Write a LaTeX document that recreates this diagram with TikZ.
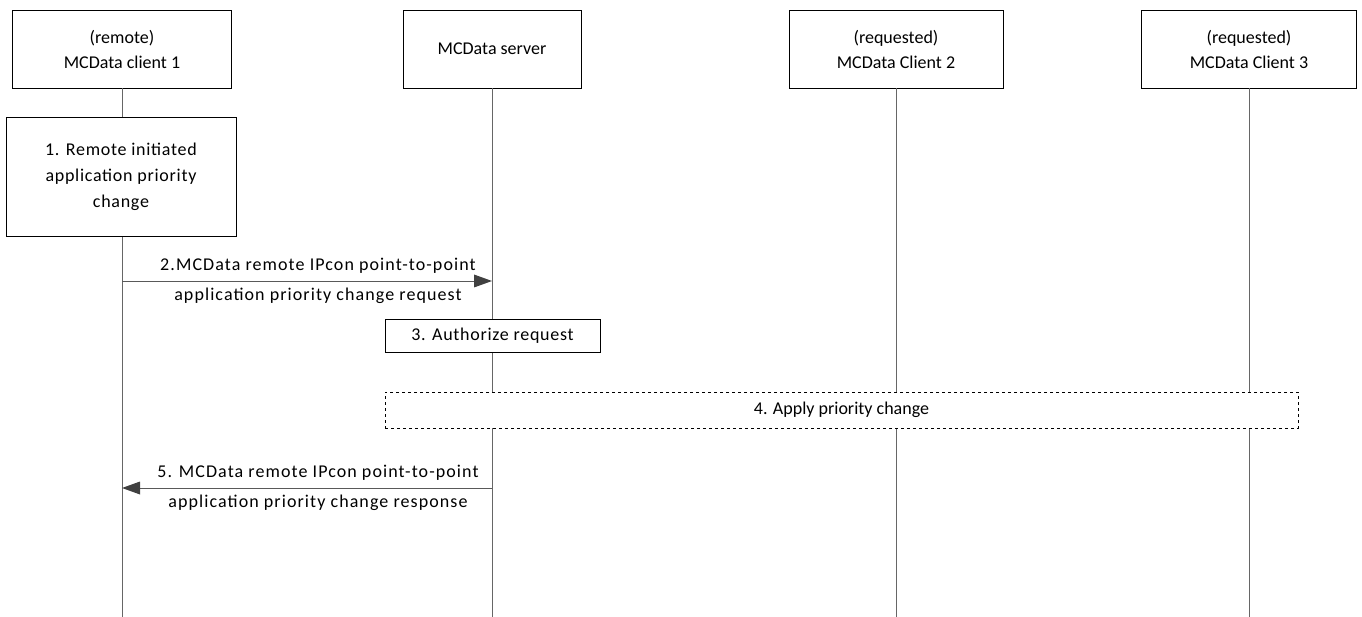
\documentclass[tikz,border=0pt]{standalone}
\usepackage{fontspec}
\setmainfont{Carlito}
\newfontfamily\widefont[LetterSpace=6]{Carlito}
\newfontfamily\midfont[LetterSpace=4]{Carlito}
\usetikzlibrary{arrows.meta}
\tikzset{
  entity/.style={draw, thick, fill=white, align=center, inner sep=0pt},
  action/.style={draw, thick, fill=white, align=center, inner sep=0pt},
  lifeline/.style={draw=gray!80!black, thick},
  msg/.style={draw=gray!70!black, thick, -{Triangle[length=18pt,width=13pt,fill=black!75,line width=0pt]}},
  msglabel/.style={align=center, font=\widefont\fontsize{18}{30}\selectfont}
}
\begin{document}
\begin{tikzpicture}[x=1pt, y=-1pt, font=\fontsize{18}{25}\selectfont]
  \useasboundingbox (0,0) rectangle (1362,617);
  % participants
  \node[entity, minimum width=219pt, minimum height=78pt] (c1) at (122,49) {(remote)\\MCData client 1};
  \node[entity, minimum width=178pt, minimum height=78pt] (sv) at (492,49) {MCData server};
  \node[entity, minimum width=214pt, minimum height=78pt] (c2) at (896,49) {(requested)\\MCData Client 2};
  \node[entity, minimum width=215pt, minimum height=78pt] (c3) at (1249,49) {(requested)\\MCData Client 3};
  % lifelines
  \coordinate (c1end) at (122,617);
  \coordinate (svend) at (492,617);
  \coordinate (c2end) at (896,617);
  \coordinate (c3end) at (1249,617);
  \draw[lifeline] (c1) -- (c1end);
  \draw[lifeline] (sv) -- (svend);
  \draw[lifeline] (c2) -- (c2end);
  \draw[lifeline] (c3) -- (c3end);
  % 1. remote initiated change
  \node[action, minimum width=230pt, minimum height=119pt, font=\midfont\fontsize{18}{26}\selectfont] (s1) at (121,176.5) {1. Remote initiated\\application priority\\change};
  % 2. request
  \coordinate (c1m2) at (122,281);
  \coordinate (svm2) at (492,281);
  \draw[msg] (c1m2) -- (svm2);
  \node[msglabel] (l2) at (318,281) {2.MCData remote IPcon point-to-point\\application priority change request};
  % 3. authorize
  \node[action, minimum width=215pt, minimum height=33pt, font=\midfont\fontsize{18}{25}\selectfont] (s3) at (492.5,335.5) {3. Authorize request};
  % 4. apply change
  \node[action, dashed, minimum width=913pt, minimum height=36pt] (s4) at (841.5,410) {4. Apply priority change};
  % 5. response
  \coordinate (svm5) at (492,488);
  \coordinate (c1m5) at (122,488);
  \draw[msg] (svm5) -- (c1m5);
  \node[msglabel] (l5) at (318,488) {5. MCData remote IPcon point-to-point\\application priority change response};
\end{tikzpicture}
\end{document}
